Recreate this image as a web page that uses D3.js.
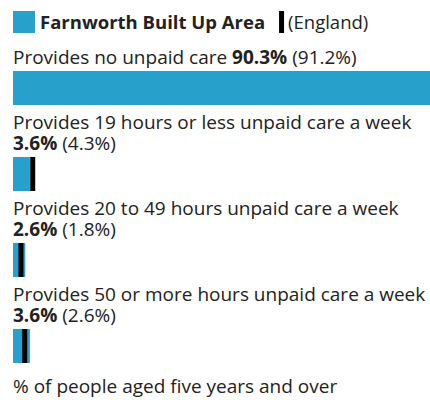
<!DOCTYPE html>
<html>
<head>
<meta charset="utf-8">
<script src="https://cdn.jsdelivr.net/npm/d3@7"></script>
<style>
  body { margin: 0; background: #fff; }
  svg { display: block; font-family: "Open Sans", sans-serif; }
</style>
</head>
<body>
<div id="chart"></div>
<script>
// chart data
const categories = [
    'Provides no unpaid care',
    'Provides 19 hours or less unpaid care a week',
    'Provides 20 to 49 hours unpaid care a week',
    'Provides 50 or more hours unpaid care a week'
];
const areaValues = [90.3, 3.6, 2.6, 3.6];
const englandValues = [91.2, 4.3, 1.8, 2.6];
const areaName = 'Farnworth Built Up Area';
const compareName = '(England)';
const footnote = '% of people aged five years and over';

const width = 430, height = 400;
const left = 13;
const blue = '#27a0cc', ink = '#222';
const fontSize = 19, lineH = 21;

const svg = d3.select('#chart').append('svg')
    .attr('width', width)
    .attr('height', height);

const x = d3.scaleLinear().domain([0, 100]).range([left, left + 470]);

// legend
const legend = svg.append('g');
legend.append('rect').attr('x', 13).attr('y', 11).attr('width', 22).attr('height', 22).attr('fill', blue);
const lt = legend.append('text').attr('x', 40).attr('y', 28.5)
    .attr('font-size', 18.5).attr('font-weight', 'bold').attr('fill', ink).text(areaName);
const ltEnd = 40 + lt.node().getComputedTextLength();
legend.append('rect').attr('x', ltEnd + 14).attr('y', 11).attr('width', 5).attr('height', 22).attr('fill', '#000');
legend.append('text').attr('x', ltEnd + 23).attr('y', 28.5)
    .attr('font-size', 18.5).attr('fill', ink).text(compareName);

// write "value% (england%)" into a text element
function addValues(t, i) {
    t.append('tspan').attr('font-weight', 'bold').text(areaValues[i] + '%');
    t.append('tspan').text(' (' + englandValues[i] + '%)');
}

// rows
let y = 64;
categories.forEach((cat, i) => {
    const g = svg.append('g');
    const t = g.append('text').attr('x', left).attr('y', y).attr('font-size', fontSize).attr('fill', ink);
    t.append('tspan').text(cat + ' ');
    const vals = t.append('tspan');
    addValues(vals, i);
    if (t.node().getComputedTextLength() > width - left - 4) {
        // value goes onto its own line
        vals.remove();
        y += lineH;
        const t2 = g.append('text').attr('x', left).attr('y', y).attr('font-size', fontSize).attr('fill', ink);
        addValues(t2, i);
    }
    const barY = y + 7;
    g.append('rect')
        .attr('x', x(0)).attr('y', barY)
        .attr('width', x(areaValues[i]) - x(0)).attr('height', 34)
        .attr('fill', blue);
    g.append('rect')
        .attr('x', x(englandValues[i]) - 3).attr('y', barY)
        .attr('width', 5).attr('height', 34)
        .attr('fill', '#000');
    y = barY + 34 + 24;
});

svg.append('text').attr('x', left).attr('y', y + 6)
    .attr('font-size', fontSize).attr('fill', ink).text(footnote);
</script>
</body>
</html>
